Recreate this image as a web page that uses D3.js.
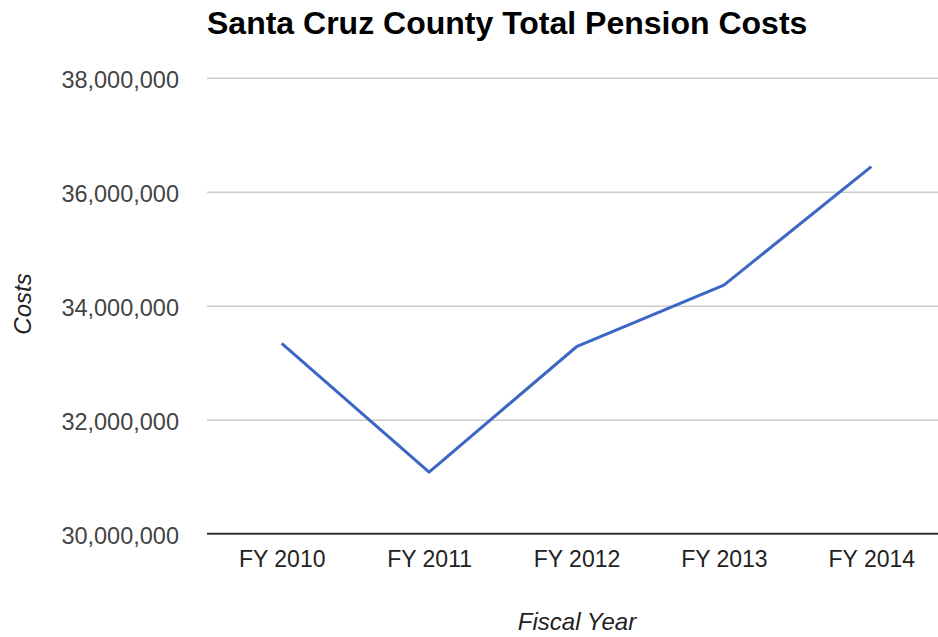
<!DOCTYPE html>
<html><head><meta charset="utf-8">
<script src="https://cdn.jsdelivr.net/npm/d3@7/dist/d3.min.js"></script>
<style>body{margin:0;background:#fff;} svg{display:block;font-family:"Liberation Sans",Arial,sans-serif;}</style>
</head><body>
<svg id="chart" width="938" height="637"></svg>
<script>
const categories = ["FY 2010","FY 2011","FY 2012","FY 2013","FY 2014"];
const costs = [33340000, 31080000, 33280000, 34360000, 36440000];
const yTicks = [30000000, 32000000, 34000000, 36000000, 38000000];
const title = "Santa Cruz County Total Pension Costs";
const xTitle = "Fiscal Year";
const yTitle = "Costs";

const svg = d3.select("#chart");
const x = d3.scalePoint().domain(categories).range([208, 945]).padding(0.5);
const y = d3.scaleLinear().domain([30000000, 38000000]).range([533.7, 77.7]);

svg.append("text").attr("x", 207).attr("y", 34).attr("font-size", 32).attr("font-weight", "bold")
  .attr("fill", "#000").text(title);

const yAxis = d3.axisLeft(y).tickValues(yTicks).tickFormat(d3.format(",")).tickSize(0).tickPadding(0);
const gy = svg.append("g").attr("transform", "translate(179,0)").call(yAxis);
gy.select(".domain").remove();
gy.selectAll("text").attr("font-size", 23.5).attr("fill", "#444").attr("dy", "0.4em")
  .attr("font-family", "Liberation Sans, Arial, sans-serif");

const grid = d3.axisLeft(y).tickValues(yTicks.slice(1)).tickSize(-(938 - 207)).tickFormat("");
const gg = svg.append("g").attr("transform", "translate(207,0)").call(grid);
gg.select(".domain").remove();
gg.selectAll("line").attr("stroke", "#cccccc").attr("stroke-width", 1.5);

const xAxis = d3.axisBottom(x).tickSize(0).tickPadding(18);
const gx = svg.append("g").attr("transform", `translate(0,${y(30000000)})`).call(xAxis);
gx.select(".domain").remove();
gx.selectAll("text").attr("font-size", 23).attr("fill", "#222").attr("dy", 0).attr("y", 33.5)
  .attr("font-family", "Liberation Sans, Arial, sans-serif");

svg.append("line").attr("x1", 207).attr("x2", 938).attr("y1", y(30000000)).attr("y2", y(30000000))
  .attr("stroke", "#333").attr("stroke-width", 2);

const line = d3.line().x((d, i) => x(categories[i])).y(d => y(d));
svg.append("path").datum(costs).attr("d", line).attr("fill", "none")
  .attr("stroke", "#3b66c4").attr("stroke-width", 3).attr("stroke-linejoin", "round");

svg.append("text").attr("x", 577).attr("y", 630).attr("text-anchor", "middle").attr("font-size", 24)
  .attr("font-style", "italic").attr("fill", "#222").text(xTitle);
svg.append("text").attr("transform", "translate(31,304) rotate(-90)").attr("text-anchor", "middle")
  .attr("font-size", 24).attr("font-style", "italic").attr("fill", "#222").text(yTitle);
</script>
</body></html>
